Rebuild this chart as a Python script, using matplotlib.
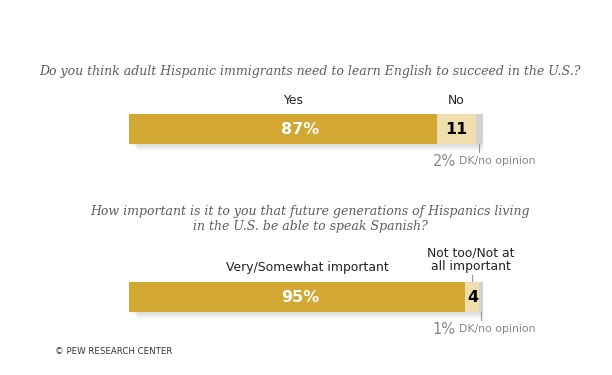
import numpy as np
import matplotlib
matplotlib.use("Agg")
from matplotlib import pyplot as plt

# survey results (percent)
questions = ["Do you think adult Hispanic immigrants need to learn English to succeed in the U.S.?",
             "How important is it to you that future generations of Hispanics living\nin the U.S. be able to speak Spanish?"]
main_labels = ["Yes", "Very/Somewhat important"]
second_labels = ["No", "Not too/Not at\nall important"]
main_vals = [87, 95]
second_vals = [11, 4]
dk_vals = [2, 1]

gold = "#D3A832"
beige = "#EFDFAE"
grey = "#D2D2D2"

fig = plt.figure(figsize=(6.12, 3.75), dpi=100)
ax = fig.add_axes([129 / 612, 0, 354 / 612, 1])
ax.set_xlim(0, 100)
ax.set_ylim(375, 0)
ax.axis("off")

ypos = np.array([128.5, 296.5])
bh = 30

# soft shadow under bars
tot = np.array(main_vals) + np.array(second_vals) + np.array(dk_vals)
for k in range(1, 8):
    ax.barh(ypos + k, tot + 0.3 * k, height=bh, left=0.4 * k, color="#888888",
            alpha=0.045, zorder=1, lw=0)

ax.barh(ypos, main_vals, height=bh, color=gold, zorder=3)
ax.barh(ypos, second_vals, height=bh, left=main_vals, color=beige, zorder=3)
ax.barh(ypos, dk_vals, height=bh, left=np.array(main_vals) + np.array(second_vals),
        color=grey, zorder=3)

sans = "DejaVu Sans"
for i in range(2):
    y = ypos[i]
    m = main_vals[i]
    s = second_vals[i]
    d = dk_vals[i]
    ax.text(48.3, y + 1, f"{m}%", color="white", fontsize=11.5, fontweight="bold",
            ha="center", va="center", family=sans, zorder=4)
    ax.text(m + s / 2, y + 1, f"{s}", color="black", fontsize=11.5, fontweight="heavy",
            ha="center", va="center", family=sans, zorder=4)
    # DK tick and label
    xd = m + s + d / 2
    ax.plot([xd, xd], [y + bh / 2, y + bh / 2 + 8], color="#999999", lw=0.8, zorder=4)
    ax.text(85.8, y + bh / 2 + 18, f"{d}%", color="#888888", fontsize=10.5,
            ha="left", va="center", family=sans)
    ax.text(93.3, y + bh / 2 + 18, "DK/no opinion", color="#888888", fontsize=7.8,
            ha="left", va="center", family=sans)

# category labels
ax.text(46.3, 101, main_labels[0], fontsize=8.9, ha="center",
        va="center", family=sans, color="#222222")
ax.text(main_vals[0] + second_vals[0] / 2, 101, second_labels[0], fontsize=8.9,
        ha="center", va="center", family=sans, color="#222222")
ax.text(50.3, 267, main_labels[1], fontsize=8.9, ha="center", va="center",
        family=sans, color="#222222")
ax.text(96.5, 259.5, second_labels[1], fontsize=8.9, ha="center",
        va="center", family=sans, color="#222222", linespacing=1.1)
xs = main_vals[1] + second_vals[1] / 2
ax.plot([xs, xs], [275, ypos[1] - bh / 2], color="#999999", lw=0.8)

# question titles
fig.text(310 / 612, 1 - 71 / 375, questions[0], fontsize=9.0, style="italic",
         family="DejaVu Serif", color="#5e5e5e", ha="center", va="center")
fig.text(310 / 612, 1 - 219 / 375, questions[1], fontsize=9.0, style="italic",
         family="DejaVu Serif", color="#5e5e5e", ha="center", va="center",
         linespacing=1.25)

fig.text(55 / 612, 1 - 351 / 375, "\u00a9 PEW RESEARCH CENTER", fontsize=6.2,
         family=sans, color="#333333", ha="left", va="center")

fig.savefig("out.png", dpi=100)
